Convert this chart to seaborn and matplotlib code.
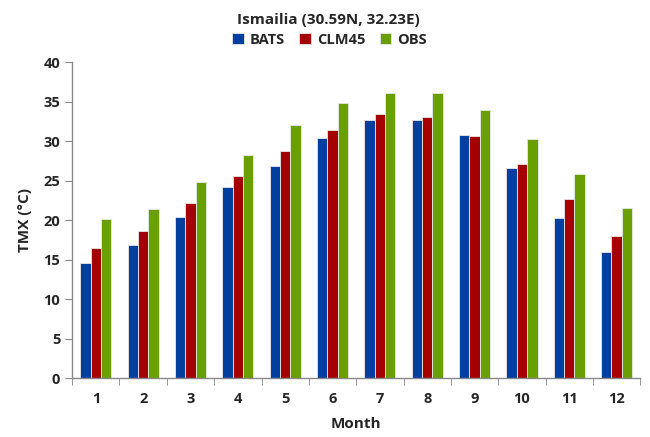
import numpy as np
import pandas as pd
import seaborn as sns
import matplotlib.pyplot as plt
from matplotlib.ticker import FixedLocator

months = [str(m) for m in range(1, 13)]
bats = [14.6, 16.9, 20.4, 24.2, 26.9, 30.4, 32.7, 32.7, 30.8, 26.6, 20.2, 15.9]
clm45 = [16.4, 18.6, 22.2, 25.6, 28.7, 31.4, 33.4, 33.0, 30.6, 27.1, 22.6, 18.0]
obs = [20.1, 21.4, 24.8, 28.2, 32.0, 34.8, 36.1, 36.1, 33.9, 30.3, 25.8, 21.5]
series = ['BATS', 'CLM45', 'OBS']
colors = ['#003FA0', '#A50000', '#6A9F00']

df = pd.DataFrame({'Month': months * 3,
                   'TMX': bats + clm45 + obs,
                   'Model': np.repeat(series, 12)})

sns.set_style('white')
plt.rcParams['font.family'] = ['Open Sans', 'DejaVu Sans']
plt.rcParams['font.weight'] = 'bold'

fig = plt.figure(figsize=(6.5, 4.37), dpi=100)
ax = fig.add_axes([0.111, 0.135, 0.874, 0.723])
sns.barplot(data=df, x='Month', y='TMX', hue='Model', palette=colors, saturation=1,
            width=0.66, edgecolor='#e8e8e8', linewidth=0.6, ax=ax)

ax.set_xlim(-0.5, 11.5)
ax.set_ylim(0, 40)
ax.set_yticks(range(0, 41, 5))
ax.xaxis.set_minor_locator(FixedLocator(np.arange(-0.5, 12, 1)))
ax.tick_params(axis='x', which='major', length=0, pad=10, labelsize=10.5)
ax.tick_params(axis='x', which='minor', length=5, color='#888888', direction='out', bottom=True)
ax.tick_params(axis='y', length=5, color='#888888', direction='out', left=True, labelsize=10.5)
for lab in ax.get_xticklabels() + ax.get_yticklabels():
    lab.set_fontweight('bold')
for s in ['top', 'right']:
    ax.spines[s].set_visible(False)
for s in ['left', 'bottom']:
    ax.spines[s].set_color('#888888')
    ax.spines[s].set_linewidth(1)

ax.set_xlabel('Month', fontsize=11, fontweight='bold', labelpad=8)
ax.set_ylabel('TMX (°C)', fontsize=11, fontweight='bold', labelpad=8)

# legend sits under the title, centred on the figure rather than the axes
ax.legend(loc='lower center', bbox_to_anchor=(0.453, 1.02), ncol=3, frameon=False,
          handlelength=0.8, handleheight=0.8, handletextpad=0.4, columnspacing=1.0,
          prop={'weight': 'bold', 'size': 10.5}, borderaxespad=0.2)
fig.suptitle('Ismailia (30.59N, 32.23E)', x=0.505, y=0.97, fontsize=11, fontweight='bold')

fig.savefig('out.png', dpi=100)
